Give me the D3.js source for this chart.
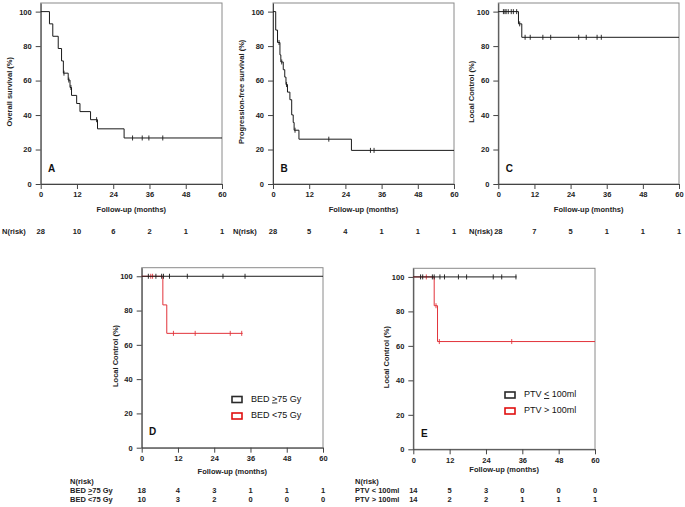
<!DOCTYPE html>
<html>
<head>
<meta charset="utf-8">
<script src="https://cdn.jsdelivr.net/npm/d3@7"></script>
<style>
  body { margin: 0; background: #fff; }
  svg { font-family: 'Liberation Sans', Arial, sans-serif; }
</style>
</head>
<body>
<svg width="685" height="507"></svg>
<script>
// DATA

var months = [0, 12, 24, 36, 48, 60];
var yTicks = [0, 20, 40, 60, 80, 100];

// A - overall survival
var osTime = [0, 2.9, 4.0, 5.8, 6.9, 7.5, 9.1, 9.7, 10.2, 11.9, 13.0, 16.5, 18.8, 27.6, 60];
var osSurv = [100, 92.9, 85.7, 78.6, 71.4, 64.3, 60.3, 56.0, 51.4, 46.7, 42.0, 37.3, 32.0, 26.7, 26.7];
var osCensor = [7.7, 9.3, 10.0, 18.5, 30.4, 33.6, 35.8, 40.4];
var osRisk = [28, 10, 6, 2, 1, 1];

// B - progression-free survival
var pfsTime = [0, 0.9, 1.5, 2.3, 2.6, 3.4, 3.9, 4.3, 4.8, 5.6, 6.2, 6.7, 7.0, 8.6, 26.0, 60];
var pfsSurv = [100, 89.3, 82.1, 74.9, 70.8, 66.3, 62.0, 57.7, 53.3, 48.9, 40.1, 35.7, 31.2, 26.0, 19.5, 19.5];
var pfsCensor = [2.0, 2.9, 4.5, 7.3, 18.5, 32.3, 33.5];
var pfsRisk = [28, 5, 4, 1, 1, 1];

// C - local control
var lcTime = [0, 6.7, 7.8, 60];
var lcSurv = [100, 92.9, 85.1, 85.1];
var lcCensor = [1.7, 2.2, 2.6, 3.3, 4.3, 5.0, 6.1, 7.1, 8.9, 10.6, 14.8, 17.4, 26.7, 29.2, 32.8, 34.2];
var lcRisk = [28, 7, 5, 1, 1, 1];

// D - local control by BED
var bedHighTime = [0, 60];
var bedHighSurv = [100, 100];
var bedHighCensor = [2.2, 4.7, 6.6, 7.2, 9.2, 15.1, 26.9, 34.2];
var bedHighRisk = [18, 4, 3, 1, 1, 1];
var bedLowTime = [0, 7.0, 8.3, 33.4];
var bedLowSurv = [100, 83.3, 66.7, 66.7];
var bedLowCensor = [3.0, 3.6, 10.5, 17.7, 29.3, 33.1];
var bedLowRisk = [10, 3, 2, 0, 0, 0];

// E - local control by PTV
var ptvSmallTime = [0, 34.1];
var ptvSmallSurv = [100, 100];
var ptvSmallCensor = [2.4, 3.1, 6.3, 6.9, 8.8, 10.3, 14.9, 17.6, 26.4, 29.2, 33.9];
var ptvSmallRisk = [14, 5, 3, 0, 0, 0];
var ptvLargeTime = [0, 6.9, 8.0, 60];
var ptvLargeSurv = [100, 83.3, 62.5, 62.5];
var ptvLargeCensor = [4.3, 7.5, 8.6, 32.5];
var ptvLargeRisk = [14, 2, 2, 1, 1, 1];

var black = '#1a1a1a';
var red = '#e2333a';

var svg = d3.select('svg');

// step value of a curve at time t
function survAt(time, surv, t) {
  var i = d3.bisectRight(time, t) - 1;
  return surv[Math.max(0, i)];
}

// writes text where one char is underlined (the >= / <= sign of the original)
function labelText(sel, parts) {
  parts.forEach(function(p) {
    var t = sel.append('tspan').text(p[0]);
    if (p[1]) t.attr('text-decoration', 'underline');
  });
}

function boldText(g, xx, yy, size) {
  return g.append('text')
    .attr('x', xx).attr('y', yy)
    .attr('dominant-baseline', 'middle')
    .attr('font-size', size).attr('font-weight', 'bold').attr('fill', '#222');
}

function drawPanel(p) {
  var x = d3.scaleLinear().domain([0, 60]).range([p.left, p.right]);
  var y = d3.scaleLinear().domain([0, 105]).range([p.bottom, p.top]);
  var g = svg.append('g');

  // frame
  g.append('rect')
    .attr('x', x(0)).attr('y', y(105))
    .attr('width', x(60) - x(0)).attr('height', y(0) - y(105))
    .attr('fill', 'none').attr('stroke', '#8a8a8a').attr('stroke-width', 1);

  // axes
  var xAxis = g.append('g')
    .attr('transform', 'translate(0,' + y(0) + ')')
    .call(d3.axisBottom(x).tickValues(months).tickSize(5).tickPadding(3).tickSizeOuter(0));
  var yAxis = g.append('g')
    .attr('transform', 'translate(' + x(0) + ',0)')
    .call(d3.axisLeft(y).tickValues(yTicks).tickSize(5).tickPadding(4).tickSizeOuter(0));
  [xAxis, yAxis].forEach(function(a) {
    a.attr('font-family', null).attr('font-size', null);
    a.selectAll('path, line').attr('stroke', '#444');
    a.selectAll('text').attr('font-size', 7.5).attr('font-weight', 'bold').attr('fill', '#222');
  });

  // axis titles
  boldText(g, (x(0) + x(60)) / 2, y(0) + p.xTitleDy, 7.5)
    .attr('text-anchor', 'middle')
    .text('Follow-up (months)');
  boldText(g, 0, 0, 7.5)
    .attr('transform', 'translate(' + (x(0) - p.yTitleDx) + ',' + (y(50) - 6) + ') rotate(-90)')
    .attr('text-anchor', 'middle')
    .text(p.yTitle);

  // panel letter
  boldText(g, x(0) + 11, y(0) - 15, 10)
    .attr('text-anchor', 'middle').attr('fill', '#111')
    .text(p.letter);

  // curves (drawn last-to-first so the black curve sits on top of the red one)
  var line = d3.line()
    .x(function(d) { return x(d[0]); })
    .y(function(d) { return y(d[1]); })
    .curve(d3.curveStepAfter);

  p.series.slice().reverse().forEach(function(s) {
    g.append('path')
      .datum(d3.zip(s.time, s.surv))
      .attr('d', line)
      .attr('fill', 'none')
      .attr('stroke', s.color)
      .attr('stroke-width', 1);

    g.selectAll(null)
      .data(s.censor)
      .enter()
      .append('line')
      .attr('x1', function(d) { return x(d); })
      .attr('x2', function(d) { return x(d); })
      .attr('y1', function(d) { return y(survAt(s.time, s.surv, d)) - 2.5; })
      .attr('y2', function(d) { return y(survAt(s.time, s.surv, d)) + 2.5; })
      .attr('stroke', s.color)
      .attr('stroke-width', 0.9);
  });

  // legend
  if (p.legend) {
    p.series.forEach(function(s, i) {
      var ly = p.legend.y + i * p.legend.gap;
      g.append('rect')
        .attr('x', p.legend.x).attr('y', ly - 3)
        .attr('width', 10).attr('height', 6)
        .attr('fill', '#fff')
        .attr('stroke', s.boxColor).attr('stroke-width', 1.6);
      var t = g.append('text')
        .attr('x', p.legend.x + 19).attr('y', ly)
        .attr('dominant-baseline', 'middle')
        .attr('font-size', 9).attr('fill', '#111');
      labelText(t, s.legend);
    });
  }

  // numbers at risk: one row per series, or inline after N(risk) for single curves
  boldText(g, p.riskLabelX, p.riskY, 7.5).text('N(risk)');
  p.series.forEach(function(s, i) {
    var ry = p.riskLabels ? p.riskY + 9.2 * (i + 1) : p.riskY;
    if (p.riskLabels) labelText(boldText(g, p.riskLabelX, ry, 7.5), s.riskLabel);
    g.selectAll(null)
      .data(s.risk)
      .enter()
      .append('text')
      .attr('x', function(d, k) { return x(months[k]); })
      .attr('y', ry)
      .attr('text-anchor', 'middle').attr('dominant-baseline', 'middle')
      .attr('font-size', 7.5).attr('font-weight', 'bold').attr('fill', '#222')
      .text(function(d) { return d; });
  });
}

// TOP ROW

drawPanel({
  left: 40.7, right: 222, top: 3, bottom: 184,
  letter: 'A', yTitle: 'Overall survival (%)', yTitleDx: 30.7, xTitleDy: 26,
  riskLabelX: 2, riskY: 232,
  series: [{ time: osTime, surv: osSurv, censor: osCensor, risk: osRisk, color: black }]
});

drawPanel({
  left: 273, right: 454, top: 3, bottom: 184,
  letter: 'B', yTitle: 'Progression-free survival (%)', yTitleDx: 31.3, xTitleDy: 26,
  riskLabelX: 233, riskY: 232,
  series: [{ time: pfsTime, surv: pfsSurv, censor: pfsCensor, risk: pfsRisk, color: black }]
});

drawPanel({
  left: 498.3, right: 679, top: 3, bottom: 184,
  letter: 'C', yTitle: 'Local Control (%)', yTitleDx: 26.6, xTitleDy: 26,
  riskLabelX: 469, riskY: 232,
  series: [{ time: lcTime, surv: lcSurv, censor: lcCensor, risk: lcRisk, color: black }]
});

// BOTTOM ROW

drawPanel({
  left: 141.7, right: 323, top: 267.7, bottom: 447.7,
  letter: 'D', yTitle: 'Local Control (%)', yTitleDx: 26, xTitleDy: 24,
  riskLabelX: 70, riskY: 482, riskLabels: true,
  legend: { x: 232, y: 399.5, gap: 16.5 },
  series: [
    { time: bedHighTime, surv: bedHighSurv, censor: bedHighCensor, risk: bedHighRisk, color: black,
      boxColor: '#2a2a2a', legend: [['BED '], ['>', true], ['75 Gy']], riskLabel: [['BED '], ['>', true], ['75 Gy']] },
    { time: bedLowTime, surv: bedLowSurv, censor: bedLowCensor, risk: bedLowRisk, color: red,
      boxColor: '#e01010', legend: [['BED <75 Gy']], riskLabel: [['BED <75 Gy']] }
  ]
});

drawPanel({
  left: 413.3, right: 595, top: 268.3, bottom: 449.3,
  letter: 'E', yTitle: 'Local Control (%)', yTitleDx: 26.6, xTitleDy: 21,
  riskLabelX: 355, riskY: 482, riskLabels: true,
  legend: { x: 505, y: 395, gap: 16 },
  series: [
    { time: ptvSmallTime, surv: ptvSmallSurv, censor: ptvSmallCensor, risk: ptvSmallRisk, color: black,
      boxColor: '#2a2a2a', legend: [['PTV '], ['<', true], [' 100ml']], riskLabel: [['PTV < 100ml']] },
    { time: ptvLargeTime, surv: ptvLargeSurv, censor: ptvLargeCensor, risk: ptvLargeRisk, color: red,
      boxColor: '#e01010', legend: [['PTV > 100ml']], riskLabel: [['PTV > 100ml']] }
  ]
});
</script>
</body>
</html>
